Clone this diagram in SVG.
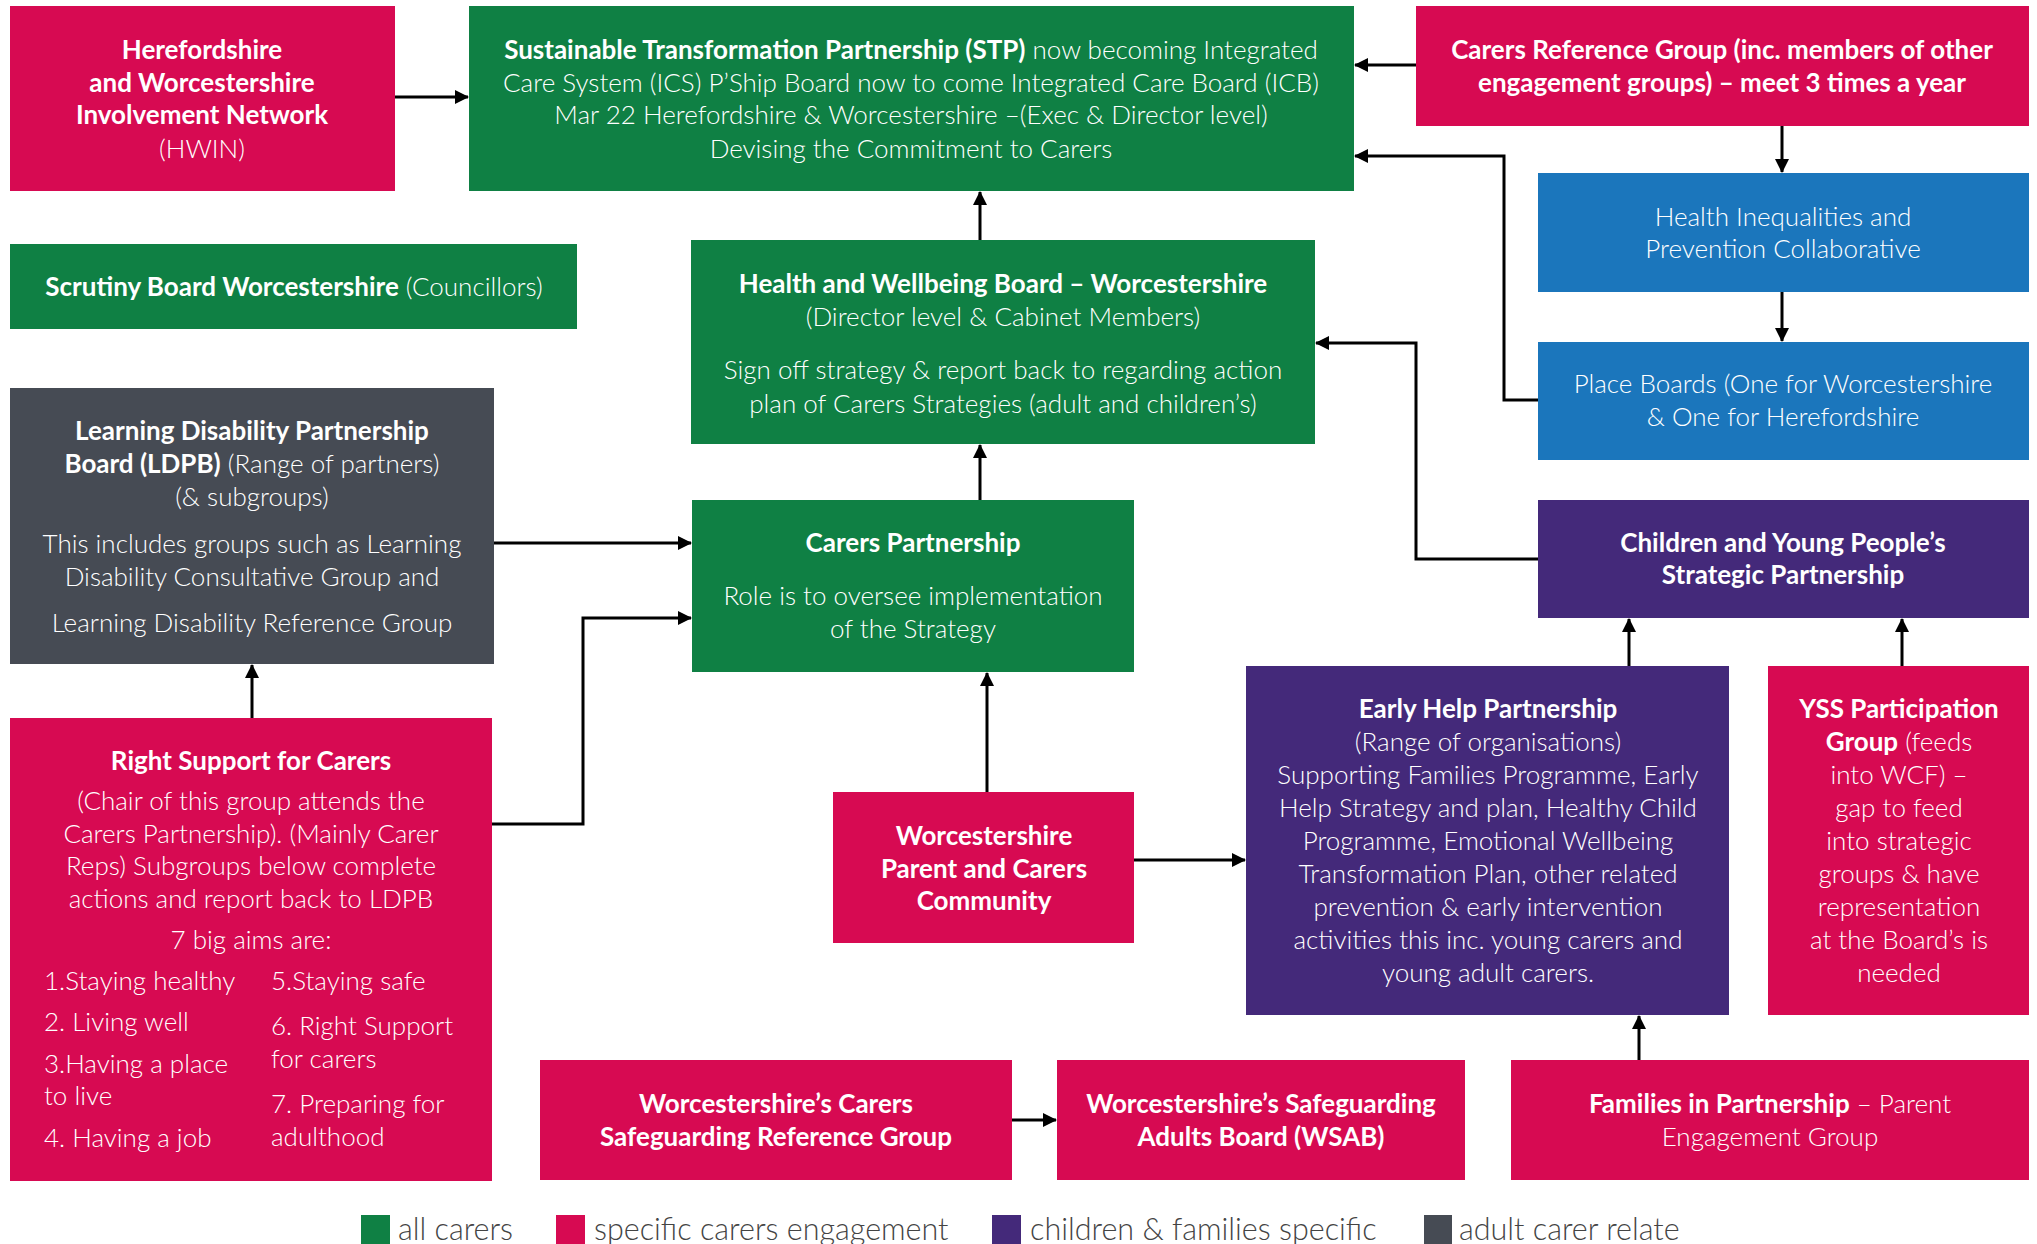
<svg xmlns="http://www.w3.org/2000/svg" width="2037" height="1244" viewBox="0 0 2037 1244">
<defs>
<style>
text{font-family:Lato,"Open Sans","Liberation Sans",sans-serif;font-size:26px;fill:#ffffff;text-anchor:middle;font-weight:300}
.b{font-weight:700}
.l{font-weight:300}
.left{text-anchor:start}
.pink{fill:#D70A52}
.green{fill:#0F8044}
.blue{fill:#1B76BC}
.purple{fill:#44297A}
.grey{fill:#464B54}
.conn{fill:none;stroke:#000;stroke-width:3;marker-end:url(#arr)}
.leg{fill:#444;font-size:30.5px;text-anchor:start;font-weight:300}
</style>
<marker id="arr" markerUnits="userSpaceOnUse" markerWidth="16" markerHeight="16" refX="13" refY="7" orient="auto">
<path d="M0,0 L14,7 L0,14 z" fill="#000"/>
</marker>
</defs>

<g id="hwin">
<rect class="pink" x="10" y="6" width="385" height="185"/>
<text x="202" y="59" class="b">Herefordshire</text>
<text x="202" y="92" class="b">and Worcestershire</text>
<text x="202" y="124" class="b">Involvement Network</text>
<text x="202" y="158">(HWIN)</text>
</g>

<g id="stp">
<rect class="green" x="469" y="6" width="885" height="185"/>
<text x="911" y="59"><tspan class="b">Sustainable Transformation Partnership (STP)</tspan> now becoming Integrated</text>
<text x="911" y="92">Care System (ICS) P’Ship Board now to come Integrated Care Board (ICB)</text>
<text x="911" y="124">Mar 22 Herefordshire &amp; Worcestershire –(Exec &amp; Director level)</text>
<text x="911" y="158">Devising the Commitment to Carers</text>
</g>

<g id="carers-ref">
<rect class="pink" x="1416" y="6" width="613" height="120"/>
<text x="1722" y="59" class="b">Carers Reference Group (inc. members of other</text>
<text x="1722" y="92" class="b">engagement groups) – meet 3 times a year</text>
</g>

<g id="scrutiny">
<rect class="green" x="10" y="244" width="567" height="85"/>
<text x="294" y="296"><tspan class="b">Scrutiny Board Worcestershire</tspan> (Councillors)</text>
</g>

<g id="hwb">
<rect class="green" x="691" y="240" width="624" height="204"/>
<text x="1003" y="293" class="b">Health and Wellbeing Board – Worcestershire</text>
<text x="1003" y="326">(Director level &amp; Cabinet Members)</text>
<text x="1003" y="379">Sign off strategy &amp; report back to regarding action</text>
<text x="1003" y="413">plan of Carers Strategies (adult and children’s)</text>
</g>

<g id="health-ineq">
<rect class="blue" x="1538" y="173" width="491" height="119"/>
<text x="1783" y="226">Health Inequalities and</text>
<text x="1783" y="258">Prevention Collaborative</text>
</g>

<g id="place-boards">
<rect class="blue" x="1538" y="342" width="491" height="118"/>
<text x="1783" y="393">Place Boards (One for Worcestershire</text>
<text x="1783" y="426">&amp; One for Herefordshire</text>
</g>

<g id="ldpb">
<rect class="grey" x="10" y="388" width="484" height="276"/>
<text x="252" y="440" class="b">Learning Disability Partnership</text>
<text x="252" y="473"><tspan class="b">Board (LDPB)</tspan> (Range of partners)</text>
<text x="252" y="506">(&amp; subgroups)</text>
<text x="252" y="553">This includes groups such as Learning</text>
<text x="252" y="586">Disability Consultative Group and</text>
<text x="252" y="632">Learning Disability Reference Group</text>
</g>

<g id="carers-partnership">
<rect class="green" x="692" y="500" width="442" height="172"/>
<text x="913" y="552" class="b">Carers Partnership</text>
<text x="913" y="605">Role is to oversee implementation</text>
<text x="913" y="638">of the Strategy</text>
</g>

<g id="cyp">
<rect class="purple" x="1538" y="500" width="491" height="118"/>
<text x="1783" y="552" class="b">Children and Young People’s</text>
<text x="1783" y="584" class="b">Strategic Partnership</text>
</g>

<g id="right-support">
<rect class="pink" x="10" y="718" width="482" height="463"/>
<text x="251" y="770" class="b">Right Support for Carers</text>
<text x="251" y="810">(Chair of this group attends the</text>
<text x="251" y="843">Carers Partnership). (Mainly Carer</text>
<text x="251" y="875">Reps) Subgroups below complete</text>
<text x="251" y="908">actions and report back to LDPB</text>
<text x="251" y="949">7 big aims are:</text>
<text x="44" y="990" class="left">1.Staying healthy</text>
<text x="44" y="1031" class="left">2. Living well</text>
<text x="44" y="1073" class="left">3.Having a place</text>
<text x="44" y="1105" class="left">to live</text>
<text x="44" y="1147" class="left">4. Having a job</text>
<text x="271" y="990" class="left">5.Staying safe</text>
<text x="271" y="1035" class="left">6. Right Support</text>
<text x="271" y="1068" class="left">for carers</text>
<text x="271" y="1113" class="left">7. Preparing for</text>
<text x="271" y="1146" class="left">adulthood</text>
</g>

<g id="wpcc">
<rect class="pink" x="833" y="792" width="301" height="151"/>
<text x="984" y="845" class="b">Worcestershire</text>
<text x="984" y="878" class="b">Parent and Carers</text>
<text x="984" y="910" class="b">Community</text>
</g>

<g id="early-help">
<rect class="purple" x="1246" y="666" width="483" height="349"/>
<text x="1488" y="718" class="b">Early Help Partnership</text>
<text x="1488" y="751">(Range of organisations)</text>
<text x="1488" y="784">Supporting Families Programme, Early</text>
<text x="1488" y="817">Help Strategy and plan, Healthy Child</text>
<text x="1488" y="850">Programme, Emotional Wellbeing</text>
<text x="1488" y="883">Transformation Plan, other related</text>
<text x="1488" y="916">prevention &amp; early intervention</text>
<text x="1488" y="949">activities this inc. young carers and</text>
<text x="1488" y="982">young adult carers.</text>
</g>

<g id="yss">
<rect class="pink" x="1768" y="666" width="261" height="349"/>
<text x="1899" y="718" class="b">YSS Participation</text>
<text x="1899" y="751"><tspan class="b">Group</tspan> (feeds</text>
<text x="1899" y="784">into WCF) –</text>
<text x="1899" y="817">gap to feed</text>
<text x="1899" y="850">into strategic</text>
<text x="1899" y="883">groups &amp; have</text>
<text x="1899" y="916">representation</text>
<text x="1899" y="949">at the Board’s is</text>
<text x="1899" y="982">needed</text>
</g>

<g id="carers-safeguarding">
<rect class="pink" x="540" y="1060" width="472" height="120"/>
<text x="776" y="1113" class="b">Worcestershire’s Carers</text>
<text x="776" y="1146" class="b">Safeguarding Reference Group</text>
</g>

<g id="wsab">
<rect class="pink" x="1057" y="1060" width="408" height="120"/>
<text x="1261" y="1113" class="b">Worcestershire’s Safeguarding</text>
<text x="1261" y="1146" class="b">Adults Board (WSAB)</text>
</g>

<g id="families">
<rect class="pink" x="1511" y="1060" width="518" height="120"/>
<text x="1770" y="1113"><tspan class="b">Families in Partnership</tspan> – Parent</text>
<text x="1770" y="1146">Engagement Group</text>
</g>

<g id="connectors">
<path class="conn" d="M395,97 H468"/>
<path class="conn" d="M1416,65 H1355"/>
<path class="conn" d="M1782,126 V172"/>
<path class="conn" d="M1782,292 V341"/>
<path class="conn" d="M1538,400 H1504 V156 H1355"/>
<path class="conn" d="M1538,559 H1416 V343 H1316"/>
<path class="conn" d="M980,240 V192"/>
<path class="conn" d="M980,500 V445"/>
<path class="conn" d="M494,543 H691"/>
<path class="conn" d="M492,824 H583 V618 H691"/>
<path class="conn" d="M252,718 V665"/>
<path class="conn" d="M987,792 V673"/>
<path class="conn" d="M1134,860 H1245"/>
<path class="conn" d="M1629,666 V619"/>
<path class="conn" d="M1902,666 V619"/>
<path class="conn" d="M1639,1060 V1016"/>
<path class="conn" d="M1012,1120 H1056"/>
</g>

<g id="legend">
<rect class="green" x="361" y="1215" width="29" height="29"/>
<text class="leg" x="398" y="1240">all carers</text>
<rect class="pink" x="556" y="1215" width="29" height="29"/>
<text class="leg" x="594" y="1240">specific carers engagement</text>
<rect class="purple" x="992" y="1215" width="29" height="29"/>
<text class="leg" x="1030" y="1240">children &amp; families specific</text>
<rect class="grey" x="1424" y="1215" width="28" height="29"/>
<text class="leg" x="1459" y="1240">adult carer relate</text>
</g>
</svg>
